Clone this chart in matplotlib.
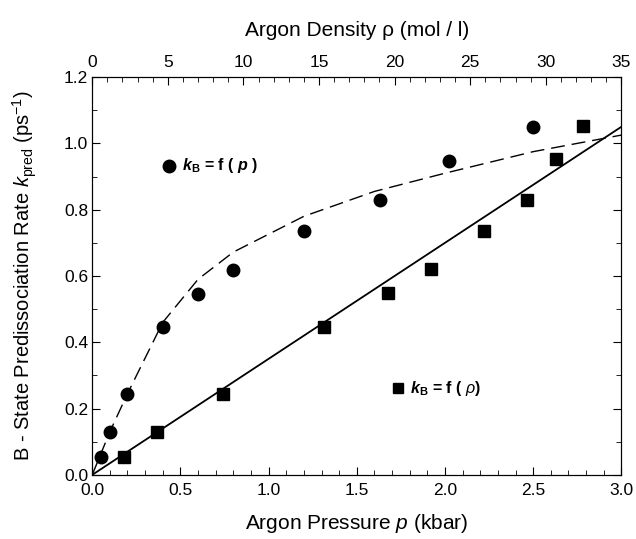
import matplotlib
matplotlib.use('Agg')
import matplotlib.pyplot as plt
from matplotlib.ticker import MultipleLocator, FormatStrFormatter

plt.rcParams['font.family'] = ['Liberation Sans', 'DejaVu Sans']
plt.rcParams['mathtext.fontset'] = 'custom'
plt.rcParams['mathtext.rm'] = 'Liberation Sans'
plt.rcParams['mathtext.it'] = 'Liberation Sans:italic'
plt.rcParams['mathtext.bf'] = 'Liberation Sans:bold'
plt.rcParams['mathtext.bfit'] = 'Liberation Sans:italic:bold'

# k_B as a function of pressure (circles, bottom axis)
pressure = [0.05, 0.1, 0.2, 0.4, 0.6, 0.8, 1.2, 1.63, 2.02, 2.5]
k_pressure = [0.055, 0.13, 0.245, 0.447, 0.545, 0.618, 0.735, 0.828, 0.948, 1.05]

# k_B as a function of density (squares, top axis)
density = [2.07, 4.31, 8.63, 15.35, 19.57, 22.39, 25.91, 28.75, 30.65, 32.45]
k_density = [0.055, 0.13, 0.245, 0.447, 0.548, 0.62, 0.737, 0.829, 0.952, 1.052]

# dashed fit curve vs pressure
p_fit = [0.0, 0.05, 0.1, 0.2, 0.4, 0.6, 0.8, 1.2, 1.6, 2.0, 2.5, 3.0]
k_p_fit = [0.0, 0.065, 0.13, 0.245, 0.46, 0.59, 0.672, 0.78, 0.855, 0.91, 0.975, 1.025]

# solid fit line vs density
rho_fit = [0.0, 35.0]
k_rho_fit = [0.0, 1.05]

fig = plt.figure(figsize=(6.36, 5.39), dpi=100)
ax = fig.add_axes([0.145, 0.119, 0.832, 0.738])

ax.plot(p_fit, k_p_fit, color='black', lw=1.0, dashes=(10, 5))
ax.plot(pressure, k_pressure, 'o', color='black', markersize=9)
ax.set_xlim(0, 3.0)
ax.set_ylim(0, 1.2)
ax.xaxis.set_major_locator(MultipleLocator(0.5))
ax.xaxis.set_minor_locator(MultipleLocator(0.1))
ax.yaxis.set_major_locator(MultipleLocator(0.2))
ax.yaxis.set_minor_locator(MultipleLocator(0.1))
ax.xaxis.set_major_formatter(FormatStrFormatter('%.1f'))
ax.yaxis.set_major_formatter(FormatStrFormatter('%.1f'))
ax.tick_params(which='both', direction='in', right=True, labelsize=12.5)
ax.tick_params(which='major', length=6)
ax.tick_params(which='minor', length=3.5)
ax.tick_params(axis='y', pad=3)
ax.tick_params(axis='x', pad=6)
ax.set_xlabel('Argon Pressure $p$ (kbar)', fontsize=15, labelpad=10)
ax.set_ylabel('B - State Predissociation Rate $k_{\\mathrm{pred}}$ (ps$^{-1}$)',
              fontsize=14.5, labelpad=18)

ax2 = ax.twiny()
ax2.plot(rho_fit, k_rho_fit, color='black', lw=1.3)
ax2.plot(density, k_density, 's', color='black', markersize=8)
ax2.set_xlim(0, 35)
ax2.xaxis.set_major_locator(MultipleLocator(5))
ax2.xaxis.set_minor_locator(MultipleLocator(1))
ax2.tick_params(which='both', direction='in', labelsize=12.5, pad=5)
ax2.tick_params(which='major', length=6)
ax2.tick_params(which='minor', length=3.5)
ax2.set_xlabel('Argon Density ρ (mol / l)', fontsize=15, labelpad=14)

# in-plot legends
ax.plot([0.436], [0.932], 'o', color='black', markersize=9)
ax.text(0.51, 0.932, '$\\mathbfit{k}_\\mathbf{B}$ = f ( $\\mathbfit{p}$ )', fontsize=11.5,
        fontweight='bold', va='center')
ax.plot([1.735], [0.262], 's', color='black', markersize=7)
ax.text(1.8, 0.262, '$\\mathbfit{k}_\\mathbf{B}$ = f ( $\\mathit{\\rho}$)', fontsize=11.5,
        fontweight='bold', va='center')

fig.savefig('out.png', dpi=100)
